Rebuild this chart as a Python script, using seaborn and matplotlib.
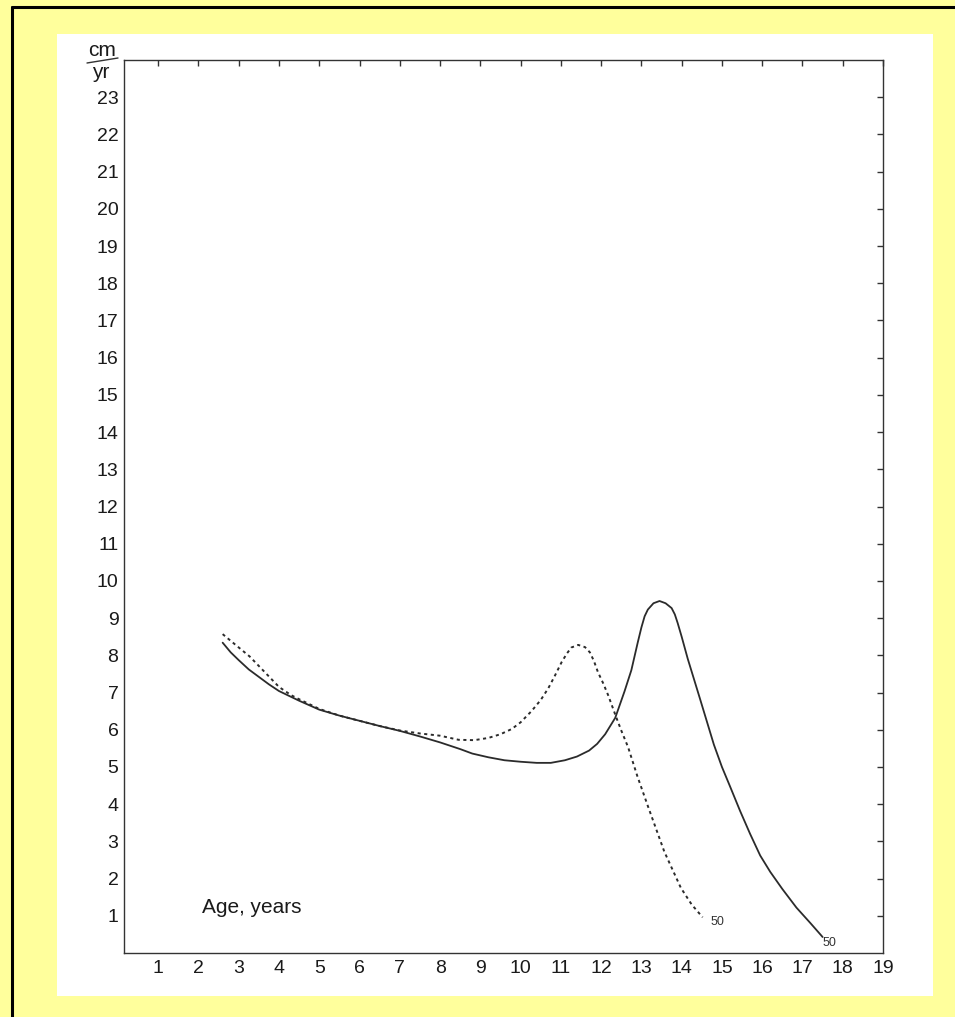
import matplotlib
matplotlib.use("Agg")
import matplotlib.pyplot as plt
import pandas as pd
import seaborn as sns
from matplotlib.lines import Line2D
from matplotlib.patches import Rectangle

# Height velocity curves (cm per year) by age in years
age_solid = [2.6, 2.8, 3.0, 3.25, 3.5, 3.75, 4.0, 4.5, 5.0, 5.5, 6.0, 6.5, 7.0, 7.5,
             8.0, 8.5, 8.8, 9.2, 9.6, 10.0, 10.4, 10.75, 11.1, 11.4, 11.7, 11.9,
             12.1, 12.35, 12.58, 12.75, 12.91, 13.0, 13.08, 13.16, 13.3, 13.45,
             13.6, 13.75, 13.83, 13.9, 14.0, 14.15, 14.45, 14.8, 15.0, 15.2, 15.45,
             15.7, 15.95, 16.2, 16.5, 16.85, 17.2, 17.5]
vel_solid = [8.34, 8.08, 7.87, 7.62, 7.42, 7.22, 7.04, 6.78, 6.54, 6.38, 6.24, 6.10, 5.97, 5.82,
             5.66, 5.48, 5.36, 5.26, 5.18, 5.14, 5.11, 5.11, 5.18, 5.28, 5.44, 5.62,
             5.88, 6.32, 7.03, 7.60, 8.35, 8.75, 9.05, 9.23, 9.40, 9.46,
             9.40, 9.27, 9.10, 8.87, 8.50, 7.91, 6.85, 5.60, 5.00, 4.48, 3.82,
             3.20, 2.62, 2.18, 1.72, 1.22, 0.80, 0.43]

age_dotted = [2.6, 2.9, 3.27, 3.6, 4.0, 4.3, 4.5, 5.0, 5.5, 6.0, 6.5, 7.0, 7.5, 8.0,
              8.46, 8.85, 9.2, 9.5, 9.78, 10.0, 10.27, 10.5, 10.69, 10.85, 11.02,
              11.15, 11.26, 11.43, 11.6, 11.72, 11.82, 11.92, 12.05, 12.17, 12.38,
              12.5, 12.67, 12.9, 13.16, 13.57, 13.98, 14.25, 14.52]
vel_dotted = [8.57, 8.30, 7.97, 7.60, 7.15, 6.93, 6.82, 6.56, 6.38, 6.24, 6.10, 5.98, 5.90, 5.84,
              5.73, 5.72, 5.78, 5.88, 6.02, 6.20, 6.50, 6.80, 7.12, 7.45, 7.82,
              8.05, 8.21, 8.28, 8.22, 8.08, 7.85, 7.55, 7.25, 6.94, 6.32,
              5.98, 5.53, 4.75, 3.95, 2.72, 1.75, 1.30, 0.96]

x_ticks = list(range(1, 20))
y_ticks = list(range(1, 24))
end_label = "50"
x_title = "Age, years"
unit_top, unit_bottom = "cm", "yr"

sns.set_theme(style="white")
plt.rcParams["font.family"] = ["Liberation Sans", "DejaVu Sans"]

W, H = 955, 1017
ink = "#2b2b2b"

fig = plt.figure(figsize=(W / 100, H / 100), dpi=100, facecolor="#FFFF9C")

# white page on the yellow mount
page = Rectangle((57 / W, 21 / H), 876 / W, 962 / H, transform=fig.transFigure,
                 facecolor="white", edgecolor="none", zorder=-10)
fig.add_artist(page)
# black frame along the top and left edges
fig.add_artist(Line2D([11.5 / W, 1.0], [1 - 6.5 / H, 1 - 6.5 / H],
                      transform=fig.transFigure, color="black", lw=2.2, zorder=-5))
fig.add_artist(Line2D([11.5 / W, 11.5 / W], [0.0, 1 - 6.5 / H],
                      transform=fig.transFigure, color="black", lw=2.2, zorder=-5))

ax = fig.add_axes([124 / W, 64 / H, 759 / W, 893 / H], zorder=5)
ax.set_facecolor("white")

solid = pd.DataFrame({"age": age_solid, "velocity": vel_solid})
dotted = pd.DataFrame({"age": age_dotted, "velocity": vel_dotted})

sns.lineplot(data=solid, x="age", y="velocity", ax=ax, color=ink, lw=1.3,
             estimator=None, sort=False)
sns.lineplot(data=dotted, x="age", y="velocity", ax=ax, color=ink, lw=1.4,
             linestyle=(0, (1.6, 1.8)), estimator=None, sort=False)

ax.set_xlim(0.15, 19.0)
ax.set_ylim(0, 24)
ax.set_xticks(x_ticks)
ax.set_yticks(y_ticks)
ax.set_xticklabels([str(t) for t in x_ticks])
ax.set_yticklabels([str(t) for t in y_ticks])
ax.set_xlabel("")
ax.set_ylabel("")
ax.grid(False)

ax.tick_params(direction="in", length=4.5, width=1.0, color="#333333",
               labelcolor="#1a1a1a", labelsize=14, top=True, right=True,
               labeltop=False, labelright=False)
ax.tick_params(axis="x", pad=5)
ax.tick_params(axis="y", pad=4)

for sp in ax.spines.values():
    sp.set_color("#333333")
    sp.set_linewidth(1.0)
    sp.set_visible(True)

ax.text(2.09, 1.21, x_title, fontsize=15, color="#1a1a1a", ha="left", va="center")

# sample-size labels at the ends of the curves
ax.text(14.88, 0.83, end_label, fontsize=9, color="#333333", ha="center", va="center")
ax.text(17.68, 0.27, end_label, fontsize=9, color="#333333", ha="center", va="center")

# unit written as a fraction above the y axis
fig.text(102 / W, 1 - 50 / H, unit_top, fontsize=15, color="#1a1a1a",
         ha="center", va="center")
fig.text(101 / W, 1 - 73 / H, unit_bottom, fontsize=15, color="#1a1a1a",
         ha="center", va="center")
fig.add_artist(Line2D([87 / W, 118 / W], [1 - 63 / H, 1 - 58 / H],
                      transform=fig.transFigure, color="#333333", lw=1.0))

fig.savefig("out.png", dpi=100, facecolor=fig.get_facecolor())
